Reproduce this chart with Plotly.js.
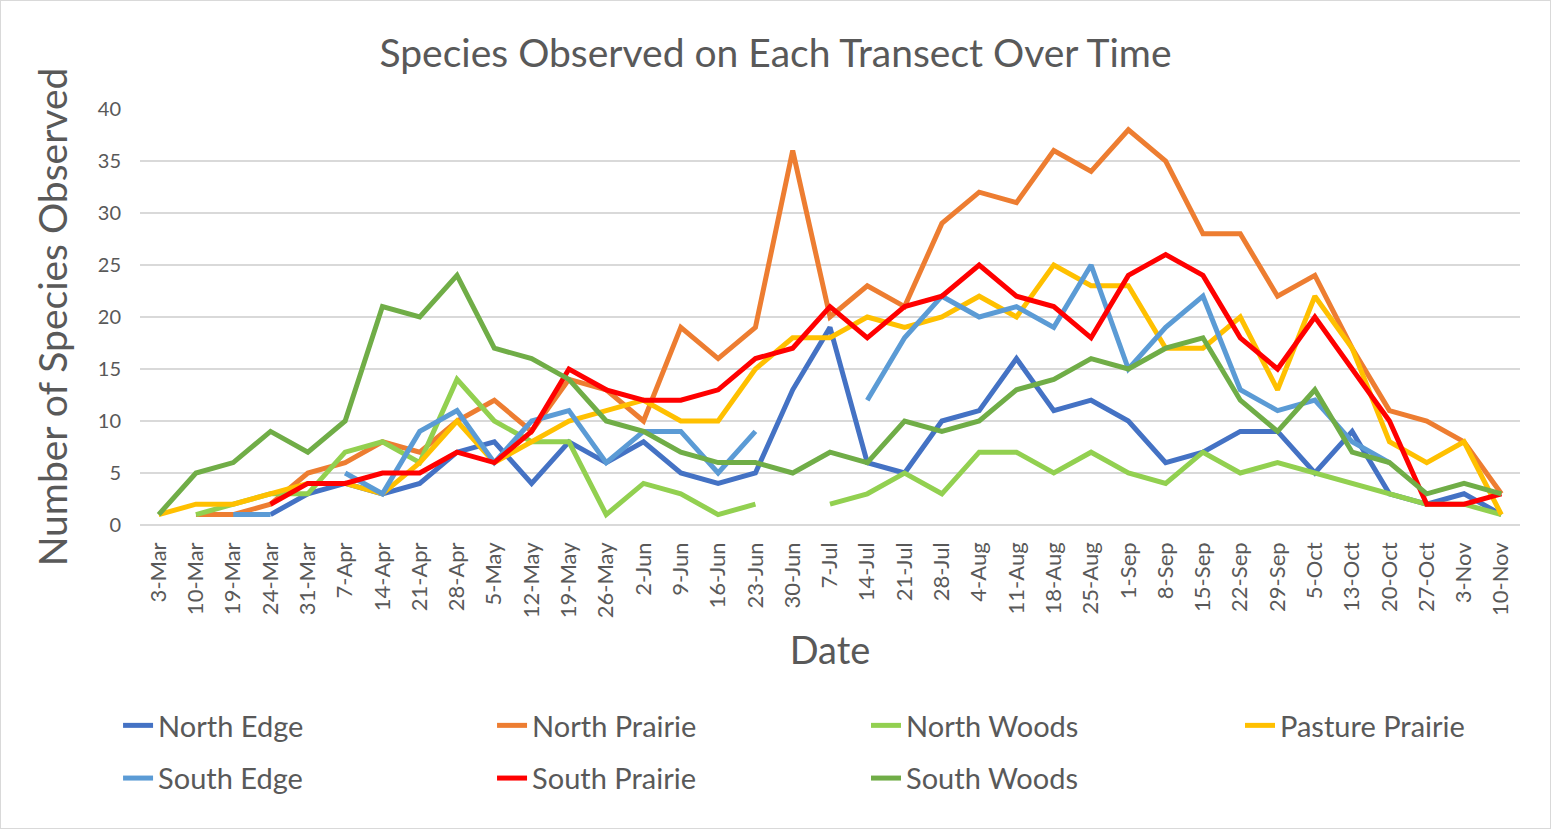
<!DOCTYPE html>
<html>
<head>
<meta charset="utf-8">
<script src="https://cdn.plot.ly/plotly-3.0.1.min.js"></script>
<style>
  html, body { margin: 0; padding: 0; background: #ffffff; }
  #chart { width: 1549px; height: 827px; border: 1px solid #d9d9d9; }
</style>
</head>
<body>
<div id="chart"></div>
<script>
// Categories (survey dates)
const dates = ["3-Mar","10-Mar","19-Mar","24-Mar","31-Mar","7-Apr","14-Apr","21-Apr","28-Apr","5-May",
  "12-May","19-May","26-May","2-Jun","9-Jun","16-Jun","23-Jun","30-Jun","7-Jul","14-Jul",
  "21-Jul","28-Jul","4-Aug","11-Aug","18-Aug","25-Aug","1-Sep","8-Sep","15-Sep","22-Sep",
  "29-Sep","5-Oct","13-Oct","20-Oct","27-Oct","3-Nov","10-Nov"];

// Series values (null = no observation)
const northEdge = [null,null,null,1,3,4,3,4,7,8,4,8,6,8,5,4,5,13,19,6,5,10,11,16,11,12,10,6,7,9,9,5,9,3,2,3,1];
const northPrairie = [null,1,1,2,5,6,8,7,10,12,9,14,13,10,19,16,19,36,20,23,21,29,32,31,36,34,38,35,28,28,22,24,17,11,10,8,3];
const northWoods = [null,1,2,3,3,7,8,6,14,10,8,8,1,4,3,1,2,null,2,3,5,3,7,7,5,7,5,4,7,5,6,5,4,3,2,2,1];
const pasturePrairie = [1,2,2,3,4,4,3,6,10,6,8,10,11,12,10,10,15,18,18,20,19,20,22,20,25,23,23,17,17,20,13,22,17,8,6,8,1];
const southEdge = [null,null,1,1,null,5,3,9,11,6,10,11,6,9,9,5,9,null,null,12,18,22,20,21,19,25,15,19,22,13,11,12,8,6,null,null,null];
const southPrairie = [null,null,null,2,4,4,5,5,7,6,9,15,13,12,12,13,16,17,21,18,21,22,25,22,21,18,24,26,24,18,15,20,15,10,2,2,3];
const southWoods = [1,5,6,9,7,10,21,20,24,17,16,14,10,9,7,6,6,5,7,6,10,9,10,13,14,16,15,17,18,12,9,13,7,6,3,4,3];

const seriesNames = ["North Edge","North Prairie","North Woods","Pasture Prairie","South Edge","South Prairie","South Woods"];
const seriesValues = [northEdge, northPrairie, northWoods, pasturePrairie, southEdge, southPrairie, southWoods];
const seriesColors = ["#4472C4","#ED7D31","#92D050","#FFC000","#5B9BD5","#FF0000","#70AD47"];

const FONT = "Lato, 'Open Sans', sans-serif";
const GREY = "#595959";

// legend column for each series (Excel lays the legend out in 4 columns)
const legendIds = ["legend","legend2","legend3","legend4","legend","legend2","legend3"];

const traces = seriesNames.map((name, i) => ({
  type: "scatter",
  mode: "lines",
  name: name,
  x: dates,
  y: seriesValues[i],
  connectgaps: false,
  legend: legendIds[i],
  legendgroup: name,
  line: { color: seriesColors[i], width: 5, shape: "linear" },
  hoverinfo: "x+y+name"
}));

const legendTop = -0.4207;
function legendAt(x) {
  return {
    orientation: "v",
    x: x, xanchor: "left",
    y: legendTop, yanchor: "top",
    tracegroupgap: 12,
    font: { family: FONT, size: 29, color: GREY },
    bgcolor: "rgba(0,0,0,0)",
    traceorder: "grouped"
  };
}

const layout = {
  width: 1549,
  height: 827,
  paper_bgcolor: "#ffffff",
  plot_bgcolor: "#ffffff",
  margin: { l: 139, r: 30, t: 108, b: 303 },
  font: { family: FONT, color: GREY },
  title: {
    text: "Species Observed on Each Transect Over Time",
    font: { family: FONT, size: 39, color: GREY },
    x: 0.5, xanchor: "center",
    y: 0.937, yanchor: "middle"
  },
  xaxis: {
    type: "category",
    range: [-0.5, 36.5],
    tickangle: -90,
    tickfont: { family: FONT, size: 22, color: GREY },
    ticks: "",
    ticklabelstandoff: 12,
    showgrid: false,
    showline: false,
    zeroline: false,
    title: { text: "Date", font: { family: FONT, size: 38, color: GREY }, standoff: 20 }
  },
  yaxis: {
    range: [0, 40],
    dtick: 5,
    tick0: 0,
    tickfont: { family: FONT, size: 20, color: GREY },
    ticks: "",
    ticklabelstandoff: 18,
    showgrid: true,
    gridcolor: "#d9d9d9",
    gridwidth: 1.5,
    zeroline: true,
    zerolinecolor: "#d9d9d9",
    zerolinewidth: 1.5,
    showline: false,
    title: { text: "Number of Species Observed", font: { family: FONT, size: 39, color: GREY }, standoff: 18 }
  },
  showlegend: true,
  legend: legendAt(-0.0159),
  legend2: legendAt(0.2551),
  legend3: legendAt(0.5261),
  legend4: legendAt(0.7971)
};

Plotly.newPlot("chart", traces, layout, { displayModeBar: false, responsive: false });
</script>
</body>
</html>
